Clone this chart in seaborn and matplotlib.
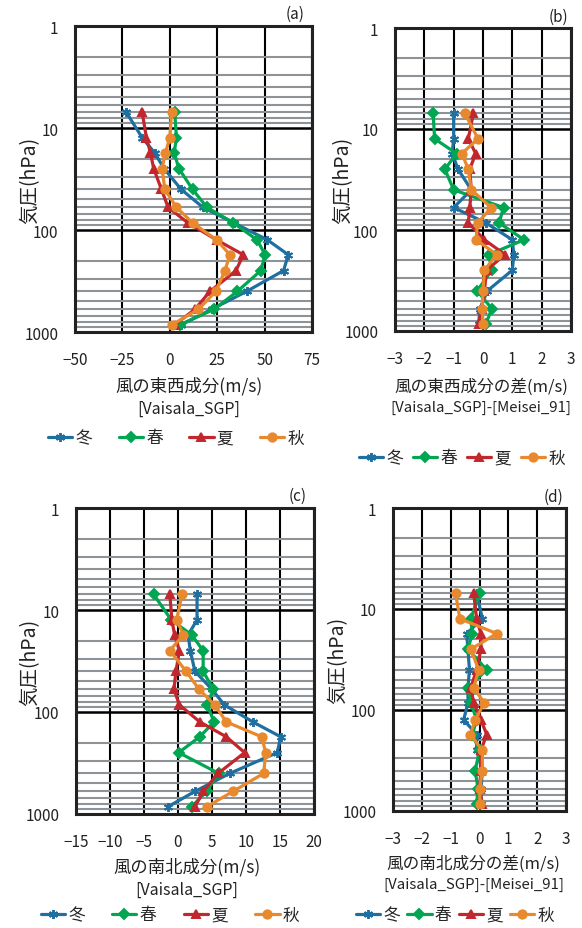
import numpy as np
import pandas as pd
import matplotlib
matplotlib.use("Agg")
import matplotlib.pyplot as plt
import seaborn as sns
from matplotlib.lines import Line2D
from matplotlib.ticker import LogLocator, NullFormatter, FixedLocator

sns.set_theme(style="white")
plt.rcParams['font.family'] = ['Noto Sans CJK JP', 'DejaVu Sans']
plt.rcParams['axes.unicode_minus'] = True

# ---------------- data ----------------
seasons = ['冬', '春', '夏', '秋']
season_colors = ['#1f6fa0', '#00a651', '#c1272d', '#e8892e']
season_markers = [(6, 2, 0), 'D', '^', 'o']
season_msizes = [6.5, 4.6, 6.0, 6.0]

# layer-mean pressure levels (hPa), top to bottom
pressure = [7, 12.5, 17.5, 25, 40, 60, 85, 125, 175, 250, 400, 600, 850]

# (a) zonal wind, Vaisala_SGP (m/s)
u_winter = [-23.0, -14.5, -8.0, -3.0, 6.0, 17.5, 33.7, 51.5, 62.5, 60.0, 40.5, 22.0, 6.0]
u_spring = [2.6, 3.5, 2.3, 4.8, 12.0, 19.6, 33.5, 46.0, 50.3, 48.0, 35.6, 23.3, 5.3]
u_summer = [-14.6, -12.3, -10.2, -8.5, -4.4, -0.9, 9.5, 24.7, 38.8, 34.9, 21.2, 13.2, 2.6]
u_autumn = [0.9, 0.0, -2.3, -4.1, -2.6, 3.5, 12.0, 24.7, 31.7, 29.1, 24.3, 15.0, 1.2]

# (b) zonal wind difference, Vaisala_SGP - Meisei_91 (m/s)
du_winter = [-1.0, -1.0, -1.05, -0.85, -0.4, -1.0, 0.1, 1.0, 1.05, 1.0, 0.15, -0.1, -0.15]
du_spring = [-1.7, -1.65, -0.9, -1.3, -1.0, 0.7, 0.55, 1.4, 0.2, 0.3, -0.2, 0.3, 0.1]
du_summer = [-0.33, -0.5, -0.25, -0.45, -0.4, -0.45, -0.5, 0.05, 0.75, 0.12, 0.05, -0.05, -0.15]
du_autumn = [-0.62, -0.17, -0.72, -0.5, -0.4, 0.28, -0.18, -0.24, 0.47, 0.05, 0.0, -0.03, 0.0]

# (c) meridional wind, Vaisala_SGP (m/s)
v_winter = [2.8, 2.8, 1.5, 1.8, 2.5, 5.0, 6.8, 11.0, 15.1, 14.6, 7.6, 2.5, -1.5]
v_spring = [-3.6, -1.0, 2.0, 3.7, 3.7, 5.2, 4.3, 5.3, 3.2, 0.1, 6.0, 4.2, 2.0]
v_summer = [-1.2, -0.9, -0.5, 0.2, -0.3, -0.6, 0.2, 3.2, 7.1, 9.8, 5.9, 3.7, 2.5]
v_autumn = [0.6, -0.2, 0.8, -1.2, 1.2, 3.1, 5.4, 7.1, 12.3, 12.9, 12.6, 8.1, 4.2]

# (d) meridional wind difference, Vaisala_SGP - Meisei_91 (m/s)
dv_winter = [-0.1, 0.1, -0.45, -0.4, -0.35, -0.4, -0.4, -0.55, -0.1, -0.1, 0.1, 0.05, 0.05]
dv_spring = [0.0, -0.3, -0.25, -0.4, 0.25, -0.4, -0.3, -0.1, -0.25, 0.0, -0.15, -0.05, -0.1]
dv_summer = [-0.2, -0.1, 0.05, 0.05, -0.1, -0.3, -0.2, 0.05, 0.25, 0.05, 0.05, 0.0, 0.1]
dv_autumn = [-0.83, -0.68, 0.6, -0.3, -0.03, -0.2, 0.16, -0.14, -0.32, 0.1, 0.1, 0.0, 0.02]

y_ticks = [1, 10, 100, 1000]
y_ticklabels = ['1', '10', '100', '1000']

# ---------------- layout (pixel boxes) ----------------
W, H = 582, 929
fig = plt.figure(figsize=(W / 100, H / 100), dpi=100)


def fx(px):
    return px / W


def fy(py):
    return 1 - py / H


panels = [
    dict(tag='(a)', series=[u_winter, u_spring, u_summer, u_autumn],
         box=(75, 27, 312, 333), xlim=(-50, 75), xticks=[-50, -25, 0, 25, 50, 75],
         ylab_x=30,
         label1=('風の東西成分(m/s)', 189, 386, 12.5), label2=('[Vaisala_SGP]', 189, 409, 11.5),
         legend=(176, 439, 1.6)),
    dict(tag='(b)', series=[du_winter, du_spring, du_summer, du_autumn],
         box=(395, 29, 571, 332), xlim=(-3, 3), xticks=[-3, -2, -1, 0, 1, 2, 3],
         ylab_x=343,
         label1=('風の東西成分の差(m/s)', 481, 387, 12), label2=('[Vaisala_SGP]-[Meisei_91]', 481, 408, 10.8),
         legend=(462, 459, 0.6)),
    dict(tag='(c)', series=[v_winter, v_spring, v_summer, v_autumn],
         box=(76, 509, 314, 815), xlim=(-15, 20), xticks=[-15, -10, -5, 0, 5, 10, 15, 20],
         ylab_x=30,
         label1=('風の南北成分(m/s)', 187, 867, 12.5), label2=('[Vaisala_SGP]', 187, 890, 11.5),
         legend=(170, 916, 1.65)),
    dict(tag='(d)', series=[dv_winter, dv_spring, dv_summer, dv_autumn],
         box=(393, 509, 566, 812), xlim=(-3, 3), xticks=[-3, -2, -1, 0, 1, 2, 3],
         ylab_x=338,
         label1=('風の南北成分の差(m/s)', 473, 864, 12), label2=('[Vaisala_SGP]-[Meisei_91]', 474, 885, 10.8),
         legend=(455, 916, 0.42)),
]

LW = 2.3
TXT = '#222222'

for pnl in panels:
    l, t, r, b = pnl['box']
    ax = fig.add_axes([fx(l), fy(b), fx(r) - fx(l), fy(t) - fy(b)])

    for name, vals, col, mk, ms in zip(seasons, pnl['series'], season_colors,
                                       season_markers, season_msizes):
        frame = pd.DataFrame({'value': vals, 'pressure': pressure})
        sns.lineplot(data=frame, x='value', y='pressure', orient='y', estimator=None,
                     color=col, marker=mk, markersize=ms, markeredgecolor=col,
                     markerfacecolor=col, markeredgewidth=1.4, linewidth=LW,
                     ax=ax, legend=False, zorder=3)

    ax.set_yscale('log')
    ax.set_ylim(1000, 1)
    ax.set_xlim(*pnl['xlim'])
    ax.set_xticks(pnl['xticks'])
    ax.yaxis.set_major_locator(FixedLocator(y_ticks))
    ax.set_yticklabels(y_ticklabels)
    ax.yaxis.set_minor_locator(LogLocator(base=10, subs=np.arange(2, 10)))
    ax.yaxis.set_minor_formatter(NullFormatter())
    ax.tick_params(axis='x', which='both', length=0, labelsize=11, pad=14, colors=TXT)
    ax.tick_params(axis='y', which='both', length=0, labelsize=11, pad=12, colors=TXT)
    ax.set_xlabel('')
    ax.set_ylabel('')

    ax.grid(which='minor', axis='y', color='#8e9398', linewidth=1.5)
    ax.grid(which='major', axis='y', color='black', linewidth=1.8)
    ax.grid(which='major', axis='x', color='black', linewidth=1.5)
    ax.set_axisbelow(True)
    for s in ax.spines.values():
        s.set_visible(True)
        s.set_color(TXT)
        s.set_linewidth(2.2)

    ax.text(0.93, 1.012, pnl['tag'], transform=ax.transAxes, ha='center', va='bottom',
            fontsize=11, color=TXT)

    fig.text(fx(pnl['ylab_x']), fy((t + b) / 2), '気圧(hPa)', rotation=90,
             ha='center', va='center', fontsize=14, color=TXT)

    txt, cx, cy, fs = pnl['label1']
    fig.text(fx(cx), fy(cy), txt, ha='center', va='center', fontsize=fs, color=TXT)
    txt, cx, cy, fs = pnl['label2']
    fig.text(fx(cx), fy(cy), txt, ha='center', va='center', fontsize=fs, color=TXT)

    handles = [Line2D([0], [0], color=c, marker=m, markersize=ms, markeredgecolor=c,
                      markerfacecolor=c, markeredgewidth=1.4, linewidth=LW)
               for c, m, ms in zip(season_colors, season_markers, season_msizes)]
    lx, ly, cs = pnl['legend']
    fig.legend(handles, seasons, loc='center', bbox_to_anchor=(fx(lx), fy(ly)), ncol=4,
               frameon=False, fontsize=12, handlelength=1.45, handletextpad=0.2,
               columnspacing=cs, borderaxespad=0, borderpad=0)

fig.savefig('out.png', dpi=100)
